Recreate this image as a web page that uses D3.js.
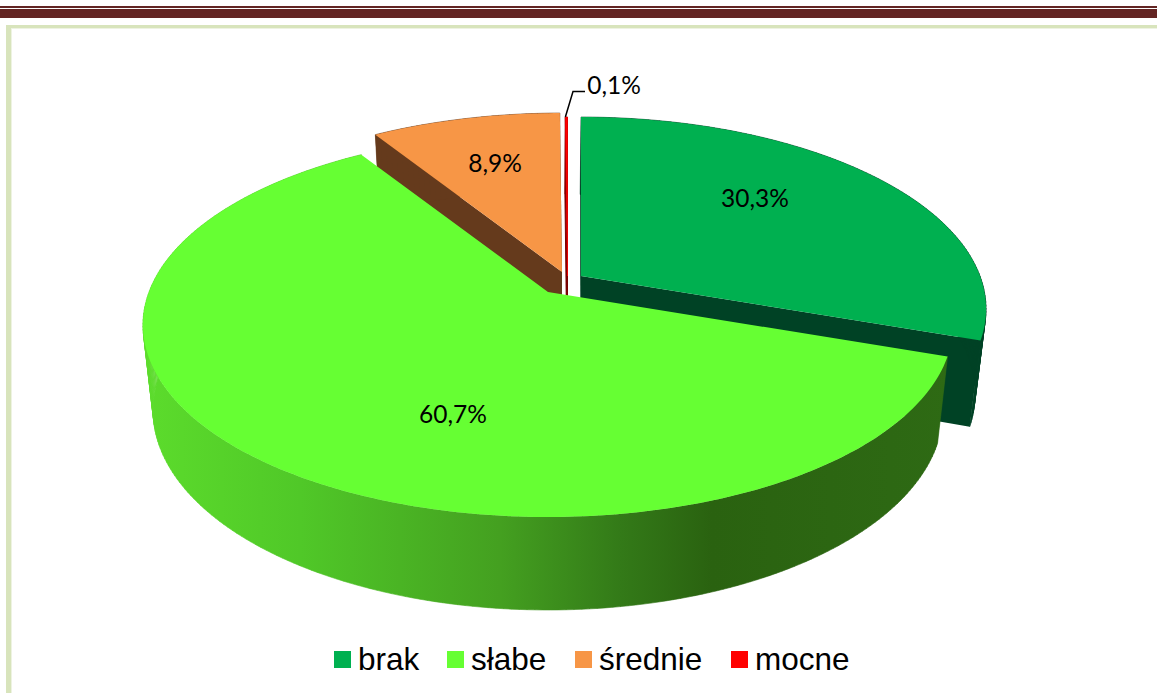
<!DOCTYPE html>
<html><head><meta charset="utf-8">
<script src="https://cdnjs.cloudflare.com/ajax/libs/d3/7.8.5/d3.min.js"></script>
<style>html,body{margin:0;padding:0;background:#fff}svg{display:block}</style>
</head><body><svg id="c" width="1157" height="693"></svg>
<script>
const categories = ["brak", "słabe", "średnie", "mocne"];
const values = [30.3, 60.7, 8.9, 0.1];
const valueLabels = ["30,3%", "60,7%", "8,9%", "0,1%"];

const topColors = ["#00b050", "#66ff33", "#f79646", "#ff0000"];
const sideColors = ["#004225", "url(#wall)", "#653a1c", "#7a0000"];
// explosion of each slice on screen, relative to the green slice
const shift = [[33, -16], [0, 0], [14, -20], [19.5, -16]];
const labelPos = [[755, 197.5], [453, 413.5], [495, 162.5], [614, 84]];
const paintOrder = [2, 3, 0, 1];

const W = 1157, H = 693;
const svg = d3.select("#c");

// header rules and frame
svg.append("rect").attr("x",0).attr("y",6).attr("width",W).attr("height",2).attr("fill","#632523");
svg.append("rect").attr("x",0).attr("y",9).attr("width",W).attr("height",9).attr("fill","#632523");
svg.append("rect").attr("x",6).attr("y",25).attr("width",W-6).attr("height",3).attr("fill","#d8e4bc");
svg.append("rect").attr("x",6).attr("y",25).attr("width",5).attr("height",H-25).attr("fill","#d8e4bc");
svg.append("rect").attr("x",11).attr("y",28).attr("width",W-11).attr("height",1).attr("fill","#eef3e2");
svg.append("rect").attr("x",11).attr("y",28).attr("width",1).attr("height",H-28).attr("fill","#eef3e2");

// wall gradient
const grad = svg.append("defs").append("linearGradient").attr("id","wall")
  .attr("gradientUnits","userSpaceOnUse").attr("x1",143).attr("x2",950).attr("y1",0).attr("y2",0);
[[143,"#5cdc2c"],[300,"#50c828"],[500,"#44a020"],[620,"#337a18"],[712,"#2a6210"],[950,"#2e6a14"]]
  .forEach(([x,c]) => grad.append("stop").attr("offset",(x-143)/(950-143)).attr("stop-color",c));

// perspective projection of the pie disc
const X0 = 548, Y0 = 292, A = 399, B = 186.3, K = 0.172;
const project = (theta, r, s) => {
  const u = r*Math.sin(theta), v = r*Math.cos(theta), w = 1 + K*v;
  return [X0 + A*u/w + s[0], Y0 - B*v/w + s[1]];
};
const lower = p => [X0 + (p[0]-X0)*0.975, p[1] + 86 + 0.039*(p[1]-338)];

const arcs = d3.pie().sort(null).value(d => d)(values);
const line = d3.line();
const rim = (a0, a1) => d3.range(0, 1.0001, 1/Math.max(2, Math.ceil((a1-a0)*60))).map(t => a0 + (a1-a0)*t);

const chart = svg.append("g");
paintOrder.forEach(i => {
  const a = arcs[i], s = shift[i];
  const ang = rim(a.startAngle, a.endAngle);
  const apex = project(0, 0, s);
  const edge0 = project(a.startAngle, 1, s), edge1 = project(a.endAngle, 1, s);
  // cut faces
  [edge0, edge1].forEach(e => {
    chart.append("path").attr("d", line([apex, e, lower(e), lower(apex)]) + "Z")
      .attr("fill", i === 1 ? "none" : sideColors[i])
      .attr("stroke", i === 3 ? sideColors[i] : "none").attr("stroke-width", 1);
  });
  // outer wall, one quad per rim step so that the whole swept area is filled
  const top = ang.map(t => project(t, 1, s));
  const wall = d3.pairs(top).map(([p, q]) => line([p, q, lower(q), lower(p)]) + "Z").join("");
  chart.append("path").attr("d", wall).attr("fill-rule", "nonzero")
    .attr("fill", sideColors[i]).attr("stroke", sideColors[i]).attr("stroke-width", 0.6);
  // top surface
  chart.append("path").attr("d", line([apex].concat(top)) + "Z").attr("fill", topColors[i])
    .attr("stroke", i === 3 ? topColors[i] : "none").attr("stroke-width", 0.6);
});

// value labels
svg.append("g").selectAll("text").data(valueLabels).join("text")
  .attr("x",(d,i)=>labelPos[i][0]).attr("y",(d,i)=>labelPos[i][1])
  .attr("text-anchor","middle").attr("dominant-baseline","central")
  .attr("font-family","Lato").attr("font-size",24.5).attr("fill","#000").text(d=>d);

// leader of the smallest slice
const rimPoint = project(arcs[3].startAngle, 1, shift[3]);
svg.append("path").attr("fill","none").attr("stroke","#000").attr("stroke-width",1.5)
  .attr("d", line([[585,91.5],[573,91.5],rimPoint]));

// legend
const legendX = [334, 447, 575, 731];
const legend = svg.append("g").selectAll("g").data(categories).join("g")
  .attr("transform",(d,i)=>`translate(${legendX[i]},651)`);
legend.append("rect").attr("x",0).attr("y",0).attr("width",17).attr("height",17).attr("fill",(d,i)=>topColors[i]);
legend.append("text").attr("x",24).attr("y",19).attr("font-family","Liberation Sans").attr("font-size",31.5).attr("fill","#000").text(d=>d);
</script></body></html>
